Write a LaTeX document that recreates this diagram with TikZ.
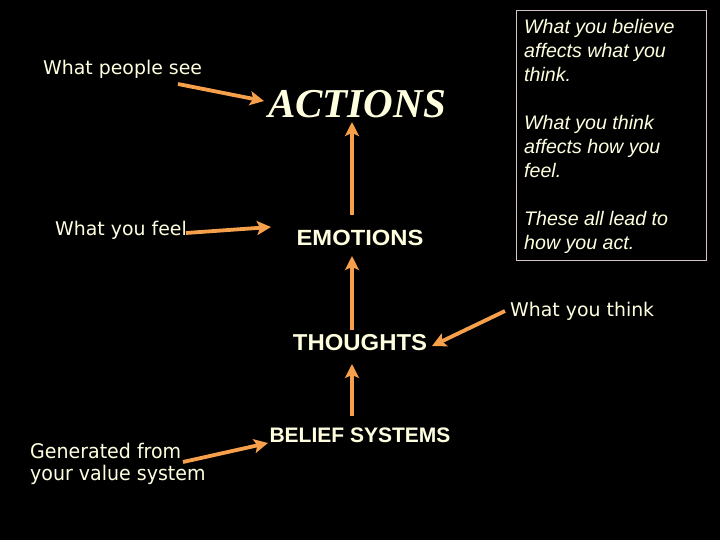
\documentclass[tikz,border=0pt]{standalone}
\usepackage{fontspec}
\setmainfont{Liberation Serif}
\setsansfont{Liberation Sans}
\newfontfamily\labfont{DejaVu Sans}
\usetikzlibrary{arrows.meta}
\definecolor{arr}{HTML}{F7A04C}
\definecolor{cream}{HTML}{FFFFE0}
\definecolor{boxc}{HTML}{D8C4C4}
\tikzset{
  conn/.style={draw=arr, line width=3.8pt, -{Stealth[length=14pt,width=14pt,inset=3pt]}},
  lab/.style={text=cream, inner sep=0pt, font=\labfont\fontsize{18.9}{24}\selectfont},
  key/.style={text=cream, inner sep=0pt, font=\sffamily\bfseries\fontsize{22}{26}\selectfont},
}
\begin{document}
\begin{tikzpicture}[x=1pt,y=-1pt]
\fill[black] (0,0) rectangle (720,540);
\useasboundingbox (0,0) rectangle (720,540);
% labels
\node[lab, anchor=base west] (see) at (43,75) {What people see};
\node[lab, anchor=base west] (feel) at (55,236) {What you feel};
\node[lab, anchor=base west] (think) at (510,316) {What you think};
\node[lab, anchor=base west, align=left, font=\labfont\fontsize{19}{22}\selectfont] (gen) at (30,480) {\scalebox{1.0}[1.06]{Generated from}\\\scalebox{1.0}[1.06]{your value system}};
% key nodes
\node[text=cream, inner sep=0pt, font=\rmfamily\bfseries\itshape\fontsize{41}{44}\selectfont] (act) at (357,104) {ACTIONS};
\node[key] (emo) at (360,238) {\scalebox{1.08}[1]{EMOTIONS}};
\node[key, font=\sffamily\bfseries\fontsize{23}{26}\selectfont] (tho) at (360,343) {\scalebox{1.04}[1]{THOUGHTS}};
\node[key, font=\sffamily\bfseries\fontsize{21}{26}\selectfont] (bel) at (360,435) {BELIEF SYSTEMS};
% box
\node[draw=boxc, line width=0.8pt, minimum width=190pt, minimum height=250pt, anchor=north west, inner sep=0pt] (box) at (516,10) {};
\node[text=cream, anchor=north west, inner sep=0pt, align=left, font=\sffamily\itshape\fontsize{19.6}{24}\selectfont] (boxtext) at (524,19.5) {What you believe\\affects what you\\think.\\[24pt]What you think\\affects how you\\feel.\\[24pt]These all lead to\\how you act.};
% connector ends
\coordinate (s1) at (178,84);
\coordinate (s2) at (264,101);
\coordinate (f1) at (186,233);
\coordinate (f2) at (271,227);
\coordinate (t1) at (505,311);
\coordinate (t2) at (432,346);
\coordinate (g1) at (183,462);
\coordinate (g2) at (268,443);
\coordinate (v1a) at (352,215);
\coordinate (v1b) at (352,122);
\coordinate (v2a) at (352,330);
\coordinate (v2b) at (352,256);
\coordinate (v3a) at (352,416);
\coordinate (v3b) at (352,364);
\draw[conn] (s1) -- (s2);
\draw[conn] (f1) -- (f2);
\draw[conn] (t1) -- (t2);
\draw[conn] (g1) -- (g2);
\draw[conn] (v1a) -- (v1b);
\draw[conn] (v2a) -- (v2b);
\draw[conn] (v3a) -- (v3b);
\end{tikzpicture}
\end{document}
